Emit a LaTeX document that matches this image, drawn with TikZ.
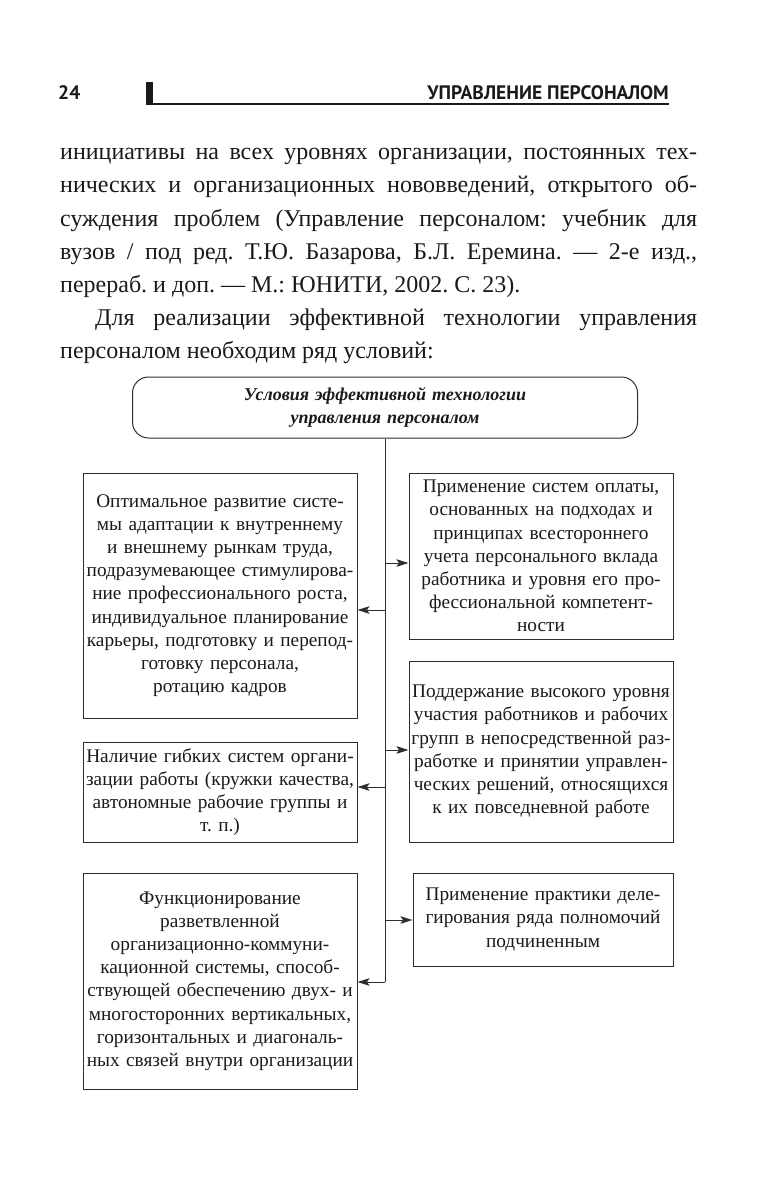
\documentclass[tikz,border=0pt]{standalone}
\usepackage{fontspec}
\setmainfont{Liberation Serif}
\newfontfamily\hdrfont{PT Sans}
\usetikzlibrary{arrows.meta}
\definecolor{linegray}{HTML}{2E2E2E}
\definecolor{ink}{HTML}{1A1A1A}
\frenchspacing
\begin{document}
\begin{tikzpicture}[x=1pt,y=-1pt,
  box/.style={draw=linegray, line width=1pt, inner xsep=1pt, inner ysep=0pt, align=center, text=ink,
              font=\fontsize{19.3}{23.2}\selectfont},
  arr/.style={draw=linegray, line width=1pt, -{Stealth[length=12pt,width=7.5pt,inset=2.5pt]}},
  trunk/.style={draw=linegray, line width=1pt},
  body/.style={anchor=base west, inner sep=0pt, text=ink, font=\fontsize{24}{33}\selectfont},
  hdr/.style={inner sep=0pt, text=ink, font=\hdrfont\bfseries\fontsize{19.5}{19.5}\selectfont}
]
\fill[white] (0,0) rectangle (756,1182);
\useasboundingbox (0,0) rectangle (756,1182);

% header
\node[hdr, anchor=base west] (pg) at (58,100) {24};
\node[hdr, anchor=base east] (hd) at (669,100) {УПРАВЛЕНИЕ ПЕРСОНАЛОМ};
\fill[ink] (146,82) rectangle (153,105);
\draw[ink, line width=1.6pt] (146,104) -- (669,104);

% body text
\node[body] (l1) at (60,160) {\makebox[637pt][s]{инициативы на всех уровнях организации, постоянных тех-}};
\node[body] (l2) at (60,193) {\makebox[637pt][s]{нических и организационных нововведений, открытого об-}};
\node[body] (l3) at (60,226) {\makebox[637pt][s]{суждения проблем (Управление персоналом: учебник для}};
\node[body] (l4) at (60,259) {\makebox[637pt][s]{вузов / под ред. Т.Ю. Базарова, Б.Л. Еремина. — 2-е изд.,}};
\node[body] (l5) at (60,292) {перераб. и доп. — М.: ЮНИТИ, 2002. С. 23).};
\node[body] (l6) at (95,325) {\makebox[602pt][s]{Для реализации эффективной технологии управления}};
\node[body] (l7) at (60,358) {персоналом необходим ряд условий:};

% diagram
\node[box, rounded corners=16pt, minimum width=505pt, minimum height=61pt, text width=480pt,
      font=\bfseries\itshape\fontsize{18}{23}\selectfont] (top) at (385,407.5)
  {Условия эффективной технологии\\управления персоналом};

\node[box, minimum width=274pt, minimum height=245pt, text width=272pt] (L1) at (220,595.5)
  {Оптимальное развитие систе-\\мы адаптации к внутреннему\\и внешнему рынкам труда,\\подразумевающее стимулирова-\\ние профессионального роста,\\индивидуальное планирование\\карьеры, подготовку и перепод-\\готовку персонала,\\ротацию кадров};

\node[box, minimum width=264pt, minimum height=166pt, text width=262pt] (R1) at (541,556)
  {Применение систем оплаты,\\основанных на подходах и\\принципах всестороннего\\учета персонального вклада\\работника и уровня его про-\\фессиональной компетент-\\ности};

\node[box, minimum width=274pt, minimum height=100pt, text width=272pt] (L2) at (220,792)
  {Наличие гибких систем органи-\\зации работы (кружки качества,\\автономные рабочие группы и\\т. п.)};

\node[box, minimum width=264pt, minimum height=181pt, text width=262pt] (R2) at (541,751.5)
  {Поддержание высокого уровня\\участия работников и рабочих\\групп в непосредственной раз-\\работке и принятии управлен-\\ческих решений, относящихся\\к их повседневной работе};

\node[box, minimum width=274pt, minimum height=216pt, text width=272pt] (L3) at (220,981)
  {Функционирование\\разветвленной\\организационно-коммуни-\\кационной системы, способ-\\ствующей обеспечению двух- и\\многосторонних вертикальных,\\горизонтальных и диагональ-\\ных связей внутри организации};

\node[box, minimum width=260pt, minimum height=93pt, text width=258pt] (R3) at (543,919.5)
  {Применение практики деле-\\гирования ряда полномочий\\подчиненным};

% connectors
\coordinate (t1) at (385,563);
\coordinate (t2) at (385,610);
\coordinate (t3) at (385,750);
\coordinate (t4) at (385,787);
\coordinate (t5) at (385,920);
\coordinate (j3) at (385,982);
\draw[trunk] (top.south) -- (j3);
\draw[arr] (t1) -- (t1 -| R1.west);
\draw[arr] (t2) -- (t2 -| L1.east);
\draw[arr] (t3) -- (t3 -| R2.west);
\draw[arr] (t4) -- (t4 -| L2.east);
\draw[arr] (t5) -- (t5 -| R3.west);
\draw[arr] (j3) -- (j3 -| L3.east);
\end{tikzpicture}
\end{document}
